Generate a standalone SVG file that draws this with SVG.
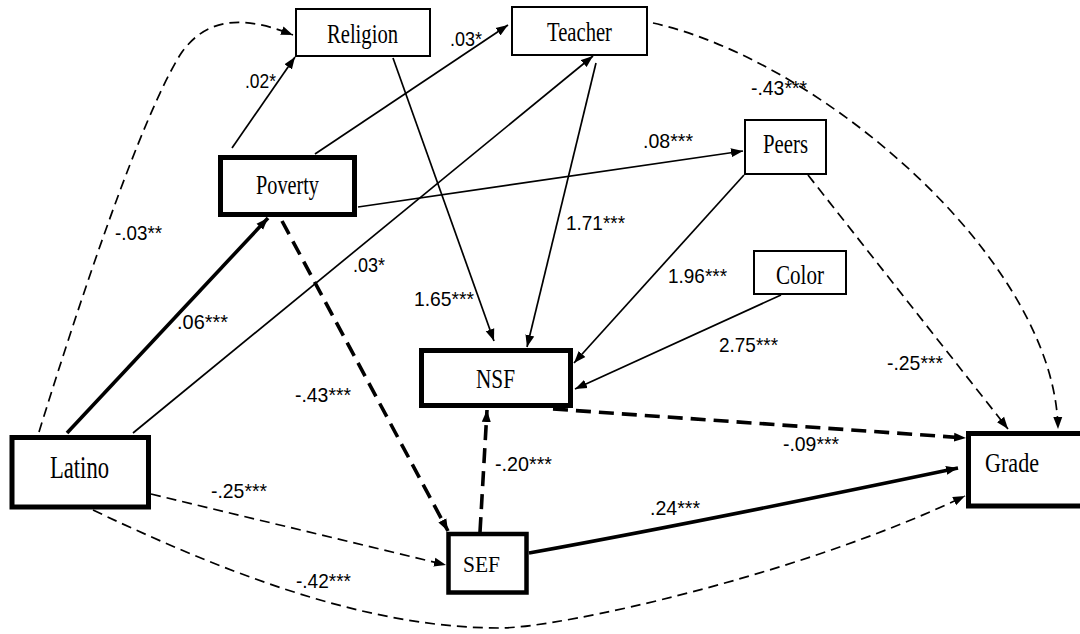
<svg xmlns="http://www.w3.org/2000/svg" width="1080" height="634" viewBox="0 0 1080 634">
<style>
.bg{fill:#ffffff}
.box{fill:#ffffff;stroke:#000;stroke-width:2}
.bbox{fill:#ffffff;stroke:#000;stroke-width:5}
.nl{font-family:"Liberation Serif","Times New Roman",serif;font-size:27px;fill:#000}
.el{font-family:"Liberation Sans",Arial,sans-serif;font-size:21px;fill:#000}
.s{fill:none;stroke:#000;stroke-width:1.7;marker-end:url(#ah)}
.d{fill:none;stroke:#000;stroke-width:1.7;stroke-dasharray:10 6;marker-end:url(#ah)}
.S{fill:none;stroke:#000;stroke-width:3.6;marker-end:url(#ah)}
.D{fill:none;stroke:#000;stroke-width:3.6;stroke-dasharray:15 8;marker-end:url(#ah)}
</style>
<defs>
<marker id="ah" markerUnits="userSpaceOnUse" markerWidth="13" markerHeight="10" refX="12" refY="5" orient="auto">
<path d="M0,0.5 L12,5 L0,9.5 z" fill="#000"/>
</marker>
</defs>
<rect class="bg" x="0" y="0" width="1080" height="634"/>
<g id="connectors">
<path class="d" d="M39 432 C80 300 140 120 180 55 C210 10 255 20 293 35"/>
<path class="s" d="M232 148 L295 57"/>
<path class="s" d="M315 154 L508 25"/>
<path class="s" d="M133 433 L593 56"/>
<path class="s" d="M393 58 L494 341"/>
<path class="s" d="M596 63 L527 347"/>
<path class="d" d="M653 23 C820 60 1055 260 1058 429"/>
<path class="s" d="M358 207 L743 151"/>
<path class="s" d="M744 175 L574 363"/>
<path class="d" d="M808 175 L1008 429"/>
<path class="s" d="M781 295 L575 389"/>
<path class="S" d="M67 433 L268 218"/>
<path class="D" d="M282 221 L448 531"/>
<path class="D" d="M480 532 L487 410"/>
<path class="D" d="M553 409 L966 438"/>
<path class="S" d="M529 553 Q700 522 958 468"/>
<path class="d" d="M151 494 L446 565"/>
<path class="d" d="M93 510 C250 585 380 628 500 628 C560 628 800 575 965 496"/>
</g>
<g id="edge-labels">
<text class="el" x="245" y="88" textLength="31" lengthAdjust="spacingAndGlyphs">.02*</text>
<text class="el" x="450" y="46" textLength="32" lengthAdjust="spacingAndGlyphs">.03*</text>
<text class="el" x="643" y="148" textLength="50" lengthAdjust="spacingAndGlyphs">.08***</text>
<text class="el" x="751" y="95" textLength="56" lengthAdjust="spacingAndGlyphs">-.43***</text>
<text class="el" x="115" y="240" textLength="47" lengthAdjust="spacingAndGlyphs">-.03**</text>
<text class="el" x="177" y="329" textLength="51" lengthAdjust="spacingAndGlyphs">.06***</text>
<text class="el" x="353" y="272" textLength="32" lengthAdjust="spacingAndGlyphs">.03*</text>
<text class="el" x="295" y="402" textLength="56" lengthAdjust="spacingAndGlyphs">-.43***</text>
<text class="el" x="566" y="230" textLength="59" lengthAdjust="spacingAndGlyphs">1.71***</text>
<text class="el" x="414" y="306" textLength="60" lengthAdjust="spacingAndGlyphs">1.65***</text>
<text class="el" x="668" y="283" textLength="59" lengthAdjust="spacingAndGlyphs">1.96***</text>
<text class="el" x="719" y="352" textLength="59" lengthAdjust="spacingAndGlyphs">2.75***</text>
<text class="el" x="887" y="370" textLength="56" lengthAdjust="spacingAndGlyphs">-.25***</text>
<text class="el" x="783" y="451" textLength="56" lengthAdjust="spacingAndGlyphs">-.09***</text>
<text class="el" x="650" y="515" textLength="50" lengthAdjust="spacingAndGlyphs">.24***</text>
<text class="el" x="495" y="471" textLength="57" lengthAdjust="spacingAndGlyphs">-.20***</text>
<text class="el" x="211" y="498" textLength="56" lengthAdjust="spacingAndGlyphs">-.25***</text>
<text class="el" x="296" y="588" textLength="55" lengthAdjust="spacingAndGlyphs">-.42***</text>
</g>
<g id="religion">
<rect class="box" x="296" y="9" width="134" height="47"/>
<text class="nl" x="327" y="43" textLength="71" lengthAdjust="spacingAndGlyphs">Religion</text>
</g>
<g id="teacher">
<rect class="box" x="512" y="7" width="135" height="48"/>
<text class="nl" x="547" y="41" textLength="65" lengthAdjust="spacingAndGlyphs">Teacher</text>
</g>
<g id="poverty">
<rect class="bbox" x="220.5" y="157.5" width="134" height="57"/>
<text class="nl" x="256" y="194" textLength="63" lengthAdjust="spacingAndGlyphs">Poverty</text>
</g>
<g id="peers">
<rect class="box" x="745" y="120" width="81" height="54"/>
<text class="nl" x="763" y="153" textLength="45" lengthAdjust="spacingAndGlyphs">Peers</text>
</g>
<g id="color">
<rect class="box" x="754" y="251" width="92" height="43"/>
<text class="nl" x="776" y="284" textLength="48" lengthAdjust="spacingAndGlyphs">Color</text>
</g>
<g id="nsf">
<rect class="bbox" x="421.5" y="350.5" width="149" height="55"/>
<text class="nl" x="476" y="388" textLength="39" lengthAdjust="spacingAndGlyphs">NSF</text>
</g>
<g id="sef">
<rect class="bbox" x="448.5" y="534" width="78" height="58.5" style="stroke-width:4.5"/>
<text class="nl" x="463" y="572" textLength="37" lengthAdjust="spacingAndGlyphs" style="font-size:24px">SEF</text>
</g>
<g id="latino">
<rect class="bbox" x="12" y="437.5" width="136.5" height="69.5"/>
<text class="nl" x="50" y="478" textLength="59" lengthAdjust="spacingAndGlyphs" style="font-size:31px">Latino</text>
</g>
<g id="grade">
<rect class="bbox" x="968.5" y="433.5" width="120" height="72.5"/>
<text class="nl" x="985" y="472" textLength="54" lengthAdjust="spacingAndGlyphs" style="font-size:28px">Grade</text>
</g>
</svg>
